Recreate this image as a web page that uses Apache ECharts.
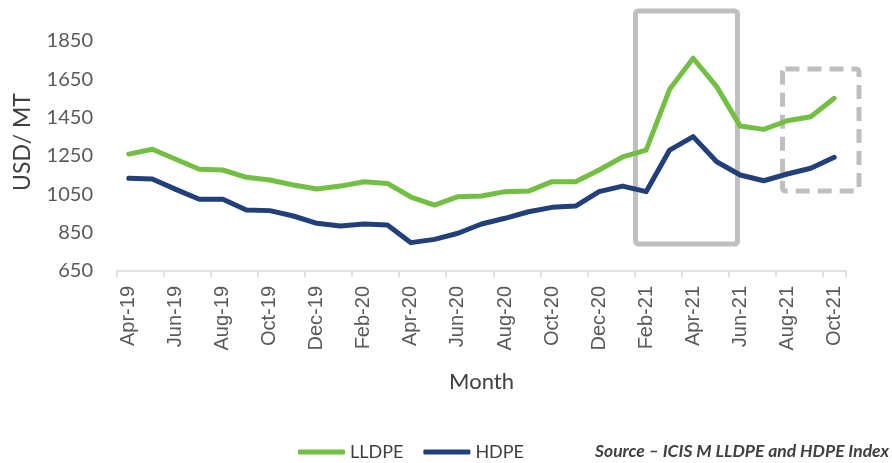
<!DOCTYPE html>
<html>
<head>
<meta charset="utf-8">
<script src="https://cdn.jsdelivr.net/npm/echarts@6/dist/echarts.min.js"></script>
<style>
html,body{margin:0;padding:0;background:#fff;}
#chart{width:892px;height:463px;}
</style>
</head>
<body>
<div id="chart"></div>
<script>
const months = ['Apr-19','May-19','Jun-19','Jul-19','Aug-19','Sep-19','Oct-19','Nov-19','Dec-19','Jan-20','Feb-20','Mar-20','Apr-20','May-20','Jun-20','Jul-20','Aug-20','Sep-20','Oct-20','Nov-20','Dec-20','Jan-21','Feb-21','Mar-21','Apr-21','May-21','Jun-21','Jul-21','Aug-21','Sep-21','Oct-21'];
const lldpe = [1260,1285,1233,1181,1177,1139,1125,1099,1078,1093,1116,1107,1036,994,1038,1041,1064,1067,1116,1116,1177,1245,1281,1598,1760,1612,1406,1389,1434,1455,1551];
const hdpe = [1134,1130,1076,1024,1024,968,965,937,899,885,895,890,798,815,847,895,925,959,982,989,1064,1093,1064,1281,1351,1220,1151,1121,1156,1186,1243];
const yMin = 650, yMax = 1850, yStep = 200;

const chart = echarts.init(document.getElementById('chart'));
chart.setOption({
  animation: false,
  grid: {left: 117, right: 46, top: 41, bottom: 192},
  xAxis: {
    type: 'category',
    data: months,
    boundaryGap: true,
    name: 'Month',
    nameLocation: 'middle',
    nameGap: 100,
    nameTextStyle: {fontFamily: 'Lato', fontSize: 22, color: '#404040'},
    axisLine: {lineStyle: {color: '#d9d9d9', width: 1.5}},
    axisTick: {show: true, interval: 1, length: 6, lineStyle: {color: '#d9d9d9', width: 1.5}},
    axisLabel: {interval: 1, rotate: 90, margin: 15, fontFamily: 'Liberation Sans', fontSize: 20, color: '#595959'}
  },
  yAxis: {
    type: 'value',
    min: yMin, max: yMax, interval: yStep,
    axisLine: {show: false},
    axisTick: {show: false},
    splitLine: {show: false},
    axisLabel: {margin: 24, fontFamily: 'Lato', fontSize: 20, color: '#595959',
      formatter: function (v) { return String(v); }}
  },
  legend: {
    left: 298, top: 443, padding: 0,
    icon: 'roundRect',
    itemWidth: 47, itemHeight: 5, itemGap: 20,
    textStyle: {fontFamily: 'Lato', fontSize: 18, color: '#404040'},
    data: ['LLDPE','HDPE']
  },
  series: [
    {name: 'LLDPE', type: 'line', data: lldpe, symbol: 'none', color: '#72bf44',
     lineStyle: {width: 5, color: '#72bf44', cap: 'round', join: 'round'}},
    {name: 'HDPE', type: 'line', data: hdpe, symbol: 'none', color: '#203f7b',
     lineStyle: {width: 5, color: '#203f7b', cap: 'round', join: 'round'}}
  ],
  graphic: [
    {type: 'text', x: 23, y: 142, rotation: Math.PI/2,
     style: {text: 'USD/ MT', font: '23px Lato', fill: '#404040', textAlign: 'center', textVerticalAlign: 'middle'}},
    {type: 'text', left: 595, top: 442,
     style: {text: 'Source \u2013 ICIS M LLDPE and HDPE Index', font: 'italic bold 17.5px Lato', fill: '#404040'}},
    {type: 'rect', shape: {x: 635.5, y: 11, width: 102, height: 233, r: 3},
     style: {fill: 'none', stroke: '#bfbfbf', lineWidth: 5}},
    {type: 'rect', shape: {x: 782.5, y: 69, width: 76.5, height: 122, r: 3},
     style: {fill: 'none', stroke: '#bfbfbf', lineWidth: 5, lineDash: [14, 8]}}
  ]
});
</script>
</body>
</html>
